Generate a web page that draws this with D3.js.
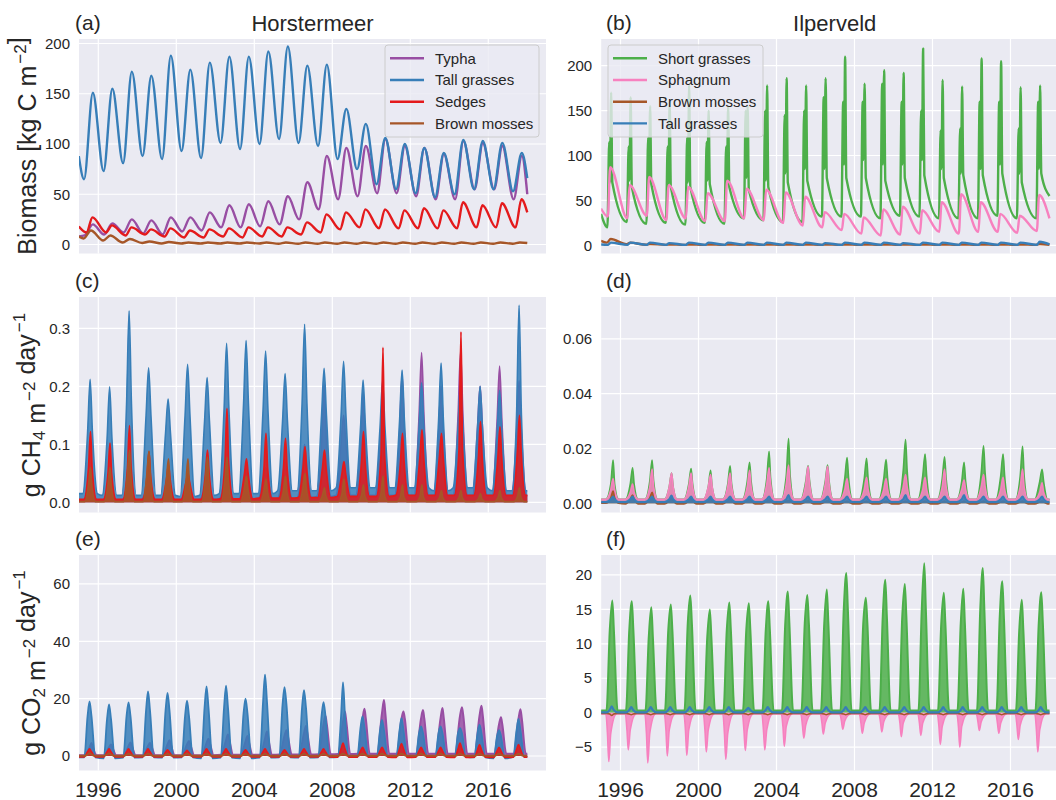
<!DOCTYPE html>
<html>
<head>
<meta charset="utf-8">
<script src="https://cdn.jsdelivr.net/npm/d3@7"></script>
<style>
body { margin: 0; background: #fff; }
svg text { font-family: "Liberation Sans", Arial, sans-serif; fill: #262626; }
</style>
</head>
<body>
<svg id="chart" width="1056" height="800"></svg>
<script>
// one value per year, 1995 .. 2017
const years = [1995,1996,1997,1998,1999,2000,2001,2002,2003,2004,2005,2006,2007,2008,2009,2010,2011,2012,2013,2014,2015,2016,2017];
const yearTicks = [1996, 2000, 2004, 2008, 2012, 2016];

// (a) biomass Horstermeer: spring minimum / autumn maximum
const hTyphaLow  = [9,10,12,11,10,13,14,17,17,18,20,25,35,45,48,51,51,48,45,45,55,55,45];
const hTyphaHigh = [20,21,25,24,27,27,32,39,40,43,48,62,88,96,98,105,98,96,90,103,101,98,88];
const hTallLow   = [65,73,81,88,85,93,86,101,95,100,105,101,98,85,75,60,55,51,47,50,55,55,53];
const hTallHigh  = [151,155,172,168,188,174,181,187,187,192,197,178,179,135,120,106,100,96,91,104,103,101,91];
const hSedgeLow  = [12,12,9,10,8,7,7,8,7,8,8,10,12,15,17,16,16,16,16,16,17,17,17];
const hSedgeHigh = [27,19,17,15,16,14,15,16,17,17,17,22,30,32,35,35,34,36,34,42,39,41,45];
const hMossLow   = [6,4,2,1.5,1,1,1,1,1,1,0.8,0.8,0.8,0.8,0.8,0.8,0.8,0.8,0.8,0.8,0.8,0.8,0.8];
const hMossHigh  = [14,9,5.5,3,2.5,2,2,2,2,2,2,2,2,2,2,2,2,2,2,2,2,2,2];

// (b) biomass Ilperveld
const iShortLow   = [20,26,24,25,23,25,24,30,28,26,26,32,32,32,30,33,32,30,30,30,33,30,30];
const iShortSpike = [115,110,120,110,120,115,110,150,150,145,150,165,160,160,180,160,150,128,130,160,160,130,160];
const iShortDip   = [70,72,70,68,70,72,68,75,72,80,85,85,90,95,90,90,95,85,80,85,90,80,85];
const iShortHigh  = [170,165,155,160,178,150,155,155,178,186,178,186,210,180,195,192,219,184,177,208,205,176,178];
const iShortAfter = [70,65,68,65,65,68,65,62,65,70,72,75,75,75,72,75,78,75,78,78,80,70,80];
const iSphagLow   = [32,30,33,28,30,27,27,30,28,25,22,20,17,13,11,12,13,15,13,15,15,14,16];
const iSphagHigh  = [87,67,76,67,65,58,72,63,62,59,54,37,35,31,40,43,39,48,57,48,35,33,56];
const iMossLow    = [3,1.2,0.6,0.5,0.5,0.5,0.5,0.5,0.5,0.5,0.5,0.5,0.5,0.5,0.5,0.5,0.5,0.5,0.5,0.5,0.5,0.5,0.5];
const iMossHigh   = [7,3,1.5,1,1,1,1,1,1,1,1,1,1,1,1,1,1,1,1,1,1,1,1.5];
const iTallLow    = [0.5,0.5,0.5,0.5,0.5,0.5,0.5,0.5,0.5,0.5,0.5,0.5,0.5,0.5,0.5,0.5,0.5,0.5,0.5,0.5,0.5,0.5,0.5];
const iTallHigh   = [3,3,3,2.5,3,3,3,3,3,3,3,2.5,3,3,3,2.5,3,3,3,3,3,3,4];

// (c) CH4 Horstermeer: winter level / summer band / annual spike
const hTyphaCH4Lo  = [0.003,0.003,0.003,0.004,0.004,0.004,0.005,0.006,0.006,0.006,0.007,0.008,0.01,0.012,0.012,0.012,0.012,0.012,0.012,0.012,0.012,0.012,0.012];
const hTyphaCH4Mid = [0.01,0.01,0.015,0.02,0.02,0.02,0.025,0.035,0.035,0.04,0.045,0.06,0.1,0.1,0.1,0.1,0.12,0.15,0.12,0.15,0.13,0.14,0.12];
const hTyphaCH4Hi  = [0.02,0.02,0.025,0.03,0.03,0.035,0.04,0.06,0.06,0.06,0.07,0.1,0.204,0.15,0.19,0.17,0.22,0.258,0.2,0.26,0.2,0.235,0.21];
const hTallCH4Lo   = [0.015,0.012,0.012,0.012,0.012,0.01,0.012,0.015,0.015,0.015,0.02,0.02,0.02,0.025,0.025,0.025,0.025,0.025,0.02,0.025,0.025,0.02,0.02];
const hTallCH4Mid  = [0.12,0.11,0.17,0.15,0.12,0.15,0.14,0.16,0.17,0.16,0.14,0.17,0.15,0.15,0.13,0.13,0.14,0.13,0.14,0.13,0.13,0.12,0.15];
const hTallCH4Hi   = [0.212,0.199,0.33,0.232,0.178,0.238,0.215,0.274,0.279,0.261,0.222,0.307,0.231,0.243,0.211,0.21,0.228,0.206,0.24,0.208,0.2,0.193,0.34];
const hSedgeCH4Lo  = [0.005,0.005,0.005,0.005,0.005,0.005,0.005,0.006,0.006,0.007,0.007,0.008,0.008,0.01,0.01,0.01,0.012,0.012,0.012,0.012,0.012,0.012,0.012];
const hSedgeCH4Mid = [0.06,0.05,0.06,0.045,0.04,0.035,0.05,0.07,0.05,0.06,0.06,0.06,0.06,0.05,0.07,0.08,0.07,0.08,0.08,0.09,0.08,0.08,0.09];
const hSedgeCH4Hi  = [0.122,0.102,0.132,0.087,0.064,0.05,0.09,0.162,0.075,0.119,0.11,0.096,0.09,0.07,0.122,0.267,0.119,0.125,0.119,0.294,0.139,0.13,0.15];
const hMossCH4Lo   = [0.001,0.001,0.001,0.001,0.001,0.001,0.001,0.001,0.001,0.001,0.001,0.001,0.001,0.001,0.001,0.001,0.001,0.001,0.001,0.001,0.001,0.001,0.001];
const hMossCH4Mid  = [0.03,0.03,0.05,0.05,0.04,0.035,0.04,0.04,0.025,0.02,0.02,0.025,0.012,0.015,0.012,0.015,0.01,0.01,0.008,0.008,0.006,0.008,0.01];
const hMossCH4Hi   = [0.06,0.06,0.09,0.088,0.075,0.075,0.078,0.078,0.045,0.04,0.045,0.05,0.025,0.04,0.03,0.045,0.03,0.03,0.02,0.02,0.015,0.02,0.025];

// (d) CH4 Ilperveld
const iShortCH4Lo  = [0.0015,0.0015,0.0015,0.0015,0.0015,0.0015,0.0015,0.0015,0.0015,0.0015,0.0015,0.0015,0.0015,0.0015,0.0015,0.0015,0.0015,0.0015,0.0015,0.0015,0.0015,0.0015,0.0015];
const iShortCH4Mid = [0.007,0.007,0.008,0.006,0.007,0.006,0.007,0.008,0.009,0.01,0.008,0.008,0.009,0.009,0.009,0.012,0.01,0.009,0.008,0.011,0.01,0.01,0.008];
const iShortCH4Hi  = [0.0158,0.013,0.0158,0.011,0.0127,0.012,0.0137,0.015,0.019,0.0236,0.0137,0.014,0.0167,0.0164,0.016,0.0233,0.018,0.017,0.015,0.021,0.018,0.0208,0.0124];
const iSphagCH4Lo  = [0.0015,0.0015,0.0015,0.0015,0.0015,0.0015,0.0015,0.0015,0.0015,0.0015,0.0015,0.0015,0.0015,0.0015,0.0015,0.0015,0.0015,0.0015,0.0015,0.0015,0.0015,0.0015,0.0015];
const iSphagCH4Mid = [0.005,0.004,0.006,0.006,0.006,0.006,0.006,0.006,0.007,0.007,0.007,0.007,0.005,0.005,0.005,0.006,0.005,0.006,0.005,0.006,0.005,0.006,0.004];
const iSphagCH4Hi  = [0.009,0.007,0.0125,0.011,0.011,0.0105,0.011,0.012,0.013,0.014,0.0135,0.0135,0.009,0.0095,0.009,0.0105,0.0095,0.0125,0.0085,0.0105,0.0095,0.0125,0.0075];
const iMossCH4Lo   = [0,-0.0002,-0.0002,-0.0002,-0.0002,-0.0002,-0.0002,-0.0002,-0.0002,-0.0002,-0.0002,-0.0002,-0.0002,-0.0002,-0.0002,-0.0002,-0.0002,-0.0002,-0.0002,-0.0002,-0.0002,-0.0002,-0.0002];
const iMossCH4Mid  = [0.002,0.0015,0.002,0.001,0.001,0.001,0.001,0.001,0.0008,0.0008,0.0006,0.0006,0.0005,0.0005,0.0005,0.0005,0.0005,0.0005,0.0005,0.0005,0.0005,0.0005,0.0005];
const iMossCH4Hi   = [0.0045,0.003,0.004,0.002,0.002,0.0018,0.0018,0.0015,0.0012,0.001,0.001,0.001,0.0008,0.0008,0.0008,0.0008,0.0008,0.0008,0.0008,0.0008,0.0008,0.0008,0.0008];
const iTallCH4Lo   = [0.0005,0.0005,0.0005,0.0005,0.0005,0.0005,0.0005,0.0005,0.0005,0.0005,0.0005,0.0005,0.0005,0.0005,0.0005,0.0005,0.0005,0.0005,0.0005,0.0005,0.0005,0.0005,0.0005];
const iTallCH4Mid  = [0.0015,0.0015,0.0015,0.0015,0.0015,0.0015,0.0015,0.0015,0.0015,0.0015,0.0015,0.0015,0.0015,0.0015,0.0015,0.0015,0.0015,0.0015,0.0015,0.0015,0.0015,0.0015,0.0015];
const iTallCH4Hi   = [0.0025,0.0025,0.0025,0.0028,0.0025,0.0025,0.0025,0.0025,0.0025,0.003,0.0025,0.0025,0.0025,0.0025,0.0025,0.003,0.0025,0.0025,0.003,0.0025,0.0025,0.0025,0.0025];

// (e) CO2 Horstermeer
const hTyphaCO2Lo  = [0.3,0.3,0.3,0.3,0.3,0.3,0.3,0.4,0.4,0.4,0.5,0.5,0.6,0.7,0.8,0.8,0.8,0.8,0.8,0.8,0.8,0.8,0.8];
const hTyphaCO2Mid = [3,3,3.5,3.5,4,4,4.5,5.5,5,6,7,8,11,12,13,15,13,13,13,14,14,11,13];
const hTyphaCO2Hi  = [4.5,4,4.7,4.5,5.5,5.2,6,7.5,7,8.5,9,10.5,14,15.5,16.5,19.5,15.5,16,16.7,17,17.5,13.5,16.3];
const hTallCO2Lo   = [-0.5,-0.8,-0.6,-0.5,-0.6,-0.5,-0.8,-0.6,-0.8,-0.6,-0.5,-0.6,-0.5,-0.4,-0.3,-0.3,-0.3,-0.3,-0.3,-0.3,-0.5,-0.8,-0.3];
const hTallCO2Mid  = [14,13,14,16,16,14,17,17,15,19,18,17,14,14,10,9,9,8,8,8,8,7,9];
const hTallCO2Hi   = [19,18,18.7,22.5,22,19.3,24.3,24.5,20,28.4,24,23,18.8,25.7,13.8,12.6,13.2,10.3,10.3,9.7,10.9,9,12.9];
const hSedgeCO2Lo  = [-0.3,-0.3,-0.3,-0.3,-0.3,-0.3,-0.3,-0.3,-0.3,-0.3,-0.3,-0.3,-0.3,-0.4,-0.4,-0.4,-0.5,-0.4,-0.4,-0.5,-0.4,-0.5,-0.4];
const hSedgeCO2Mid = [1.5,1.5,1.5,1.5,1.3,1.2,1.5,1.5,1.3,1.5,1.3,1.5,1.5,2.5,1.8,1.8,2.5,1.8,1.8,2.5,2.2,1.8,2.3];
const hSedgeCO2Hi  = [2.5,2.5,2.5,2.5,2.2,2,2.5,2.5,2.2,2.5,2.2,2.5,2.5,4.5,3,3,4.3,3,3,4.5,4,3,4];
const hMossCO2Lo   = [0.1,0.1,0.1,0.1,0.1,0.1,0.1,0.1,0.1,0.1,0.1,0.1,0.1,0.1,0.1,0.1,0.1,0.1,0.1,0.1,0.1,0.1,0.1];
const hMossCO2Mid  = [0.5,0.5,0.4,0.4,0.4,0.4,0.4,0.4,0.4,0.4,0.4,0.4,0.4,0.4,0.4,0.4,0.4,0.4,0.4,0.4,0.4,0.4,0.4];
const hMossCO2Hi   = [1,0.9,0.8,0.8,0.8,0.8,0.8,0.8,0.8,0.8,0.8,0.8,0.8,0.8,0.8,0.8,0.8,0.8,0.8,0.8,0.8,0.8,0.8];

// (f) CO2 Ilperveld
const iShortCO2Lo  = [0.3,0.3,0.3,0.3,0.3,0.3,0.3,0.3,0.3,0.3,0.3,0.3,0.3,0.3,0.3,0.3,0.3,0.3,0.3,0.3,0.3,0.3,0.3];
const iShortCO2Mid = [12,12,11,12,13,11,12,12,12,13,13,13,15,13,14,14,15,13,13,15,14,12,13];
const iShortCO2Hi  = [16.3,16.2,15.3,15.7,17,15,16,15.9,16.2,17.6,17.1,17.9,20.3,16.7,19.3,18.7,21.7,17.4,18,21,19.1,16.4,17.5];
const iSphagCO2Lo  = [-0.2,-0.2,-0.2,-0.2,-0.2,-0.2,-0.2,-0.2,-0.2,-0.2,-0.2,-0.2,-0.2,-0.2,-0.2,-0.2,-0.2,-0.2,-0.2,-0.2,-0.2,-0.2,-0.2];
const iSphagCO2Mid = [-3,-2.5,-3,-2.5,-2.5,-2.5,-3,-2.5,-2.5,-2,-1.8,-1.5,-1.2,-1.5,-1.3,-1.5,-1.5,-2,-2,-1.3,-1.5,-1.8,-2.5];
const iSphagCO2Hi  = [-7.1,-5.4,-7.3,-6.3,-6.2,-5.7,-6.8,-5.5,-5.4,-4.9,-3.7,-3.1,-2.4,-3,-2.8,-3.5,-3.3,-4.6,-5,-2.6,-3,-3.9,-5.7];
const iMossCO2Lo   = [-0.1,-0.1,-0.1,-0.1,-0.1,-0.1,-0.1,-0.1,-0.1,-0.1,-0.1,-0.1,-0.1,-0.1,-0.1,-0.1,-0.1,-0.1,-0.1,-0.1,-0.1,-0.1,-0.1];
const iMossCO2Mid  = [-0.2,-0.2,-0.2,-0.2,-0.2,-0.2,-0.2,-0.2,-0.2,-0.2,-0.2,-0.2,-0.2,-0.2,-0.2,-0.2,-0.2,-0.2,-0.2,-0.2,-0.2,-0.2,-0.2];
const iMossCO2Hi   = [-0.4,-0.3,-0.3,-0.3,-0.3,-0.3,-0.3,-0.3,-0.3,-0.3,-0.3,-0.3,-0.3,-0.3,-0.3,-0.3,-0.3,-0.3,-0.3,-0.3,-0.3,-0.3,-0.3];
const iTallCO2Lo   = [0.05,0.05,0.05,0.05,0.05,0.05,0.05,0.05,0.05,0.05,0.05,0.05,0.05,0.05,0.05,0.05,0.05,0.05,0.05,0.05,0.05,0.05,0.05];
const iTallCO2Mid  = [0.4,0.4,0.4,0.4,0.4,0.4,0.4,0.4,0.4,0.4,0.4,0.4,0.4,0.4,0.4,0.4,0.4,0.4,0.4,0.4,0.4,0.4,0.4];
const iTallCO2Hi   = [0.9,0.8,0.8,0.8,0.8,0.8,0.8,0.7,0.8,0.8,0.8,0.8,0.8,0.8,0.8,0.8,0.8,0.8,0.8,0.8,0.8,0.8,0.8];

const colors = {
  typha: '#984ea3', tall: '#377eb8', sedge: '#e41a1c',
  moss: '#a65628', short: '#4daf4a', sphag: '#f781bf'
};

// ---- helpers to turn the yearly readings into dated points ----
function seasonal(lows, highs, tLow, tHigh, start, end) {
  const pts = [{ t: 1995.0, v: start }];
  years.forEach((yr, i) => {
    pts.push({ t: yr + tLow, v: lows[i] });
    pts.push({ t: yr + tHigh, v: highs[i] });
  });
  pts.push({ t: 2018.0, v: end });
  return pts;
}

function pulses(lo, mid, hi, times) {
  const pts = [{ t: 1995.0, v: lo[0] }];
  years.forEach((yr, i) => {
    const vals = [lo[i], mid[i], hi[i], mid[i], lo[i]];
    times.forEach((f, k) => pts.push({ t: yr + f, v: vals[k] }));
  });
  pts.push({ t: 2018.0, v: lo[lo.length - 1] });
  return pts;
}

function shortGrassBiomass() {
  const pts = [{ t: 1995.0, v: 35 }];
  years.forEach((yr, i) => {
    pts.push({ t: yr + 0.33, v: iShortLow[i] });
    pts.push({ t: yr + 0.42, v: iShortSpike[i] });
    pts.push({ t: yr + 0.46, v: iShortDip[i] });
    pts.push({ t: yr + 0.52, v: iShortHigh[i] });
    pts.push({ t: yr + 0.58, v: iShortAfter[i] });
  });
  pts.push({ t: 2018.0, v: 55 });
  return pts;
}

// ---- layout ----
const svg = d3.select('#chart');
const pw = 467;
const xDom = [1995.01, 2018.96];
const rows = [[39, 253.5], [297, 512.5], [555, 770.5]];
const cols = [79, 601.2];

function panel(cfg) {
  const x0 = cols[cfg.col], [y0, y1] = rows[cfg.row];
  const x = d3.scaleLinear().domain(xDom).range([x0, x0 + pw]);
  const y = d3.scaleLinear().domain(cfg.yDom).range([y1, y0]);
  const g = svg.append('g');

  g.append('rect').attr('x', x0).attr('y', y0).attr('width', pw).attr('height', y1 - y0)
    .attr('fill', '#eaeaf2');

  // gridlines
  g.append('g').selectAll('line').data(yearTicks).join('line')
    .attr('x1', d => x(d)).attr('x2', d => x(d)).attr('y1', y0).attr('y2', y1)
    .attr('stroke', '#fff').attr('stroke-width', 1.2);
  g.append('g').selectAll('line').data(cfg.yTicks).join('line')
    .attr('x1', x0).attr('x2', x0 + pw).attr('y1', d => y(d)).attr('y2', d => y(d))
    .attr('stroke', '#fff').attr('stroke-width', 1.2);

  // y tick labels
  g.append('g').selectAll('text').data(cfg.yTicks).join('text')
    .attr('x', x0 - 9).attr('y', d => y(d)).attr('dy', '0.35em')
    .attr('text-anchor', 'end').attr('font-size', 15)
    .text(d => cfg.fmt(d).replace('-', '\u2212'));

  if (cfg.row === 2) {
    g.append('g').selectAll('text').data(yearTicks).join('text')
      .attr('x', d => x(d)).attr('y', 796.5)
      .attr('text-anchor', 'middle').attr('font-size', 21)
      .text(d => d);
  }

  const clipId = 'clip-' + cfg.id;
  svg.append('clipPath').attr('id', clipId).append('rect')
    .attr('x', x0).attr('y', y0).attr('width', pw).attr('height', y1 - y0);
  const plot = g.append('g').attr('clip-path', 'url(#' + clipId + ')');

  cfg.series.forEach(s => {
    if (s.fill) {
      const area = d3.area().x(d => x(d.t)).y0(y(0)).y1(d => y(d.v)).curve(d3.curveMonotoneX);
      plot.append('path').attr('d', area(s.pts)).attr('fill', s.color).attr('opacity', 0.85);
    }
    const line = d3.line().x(d => x(d.t)).y(d => y(d.v)).curve(d3.curveMonotoneX);
    plot.append('path').attr('d', line(s.pts)).attr('fill', 'none')
      .attr('stroke', s.color).attr('stroke-width', s.width || 2.4)
      .attr('stroke-linejoin', 'round');
  });

  g.append('text').attr('x', cfg.col === 0 ? 75 : 606).attr('y', y0 - 9.5)
    .attr('font-size', 21).text('(' + cfg.id + ')');
  return { g, x, y };
}

function legend(x0, y0, w, entries) {
  const g = svg.append('g');
  g.append('rect').attr('x', x0).attr('y', y0).attr('width', w).attr('height', 92)
    .attr('rx', 3).attr('fill', '#eaeaf2').attr('fill-opacity', 0.8)
    .attr('stroke', '#cccccc').attr('stroke-width', 1);
  entries.forEach((e, i) => {
    const cy = y0 + 13.3 + 21.7 * i;
    g.append('line').attr('x1', x0 + 5).attr('x2', x0 + 39).attr('y1', cy).attr('y2', cy)
      .attr('stroke', e.color).attr('stroke-width', 2.4);
    g.append('text').attr('x', x0 + 50).attr('y', cy).attr('dy', '0.35em')
      .attr('font-size', 15).text(e.name);
  });
}

function yLabel(x, yc, parts) {
  const t = svg.append('text').attr('transform', `translate(${x},${yc}) rotate(-90)`)
    .attr('text-anchor', 'middle').attr('font-size', 25);
  parts.forEach(p => {
    if (p.sup) {
      t.append('tspan').attr('font-size', 17).attr('dx', 2).attr('dy', -10).text(p.sup);
      t.append('tspan').attr('dy', 10).text('');
    } else if (p.sub) {
      t.append('tspan').attr('font-size', 17).attr('dy', 5).text(p.sub);
      t.append('tspan').attr('dy', -5).text('');
    } else {
      t.append('tspan').text(p.txt);
    }
  });
}

const f0 = d3.format('d'), f1 = d3.format('.1f'), f2 = d3.format('.2f');

// (a)
panel({ id: 'a', col: 0, row: 0, yDom: [-8.96, 204.5], yTicks: [0, 50, 100, 150, 200], fmt: f0,
  series: [
    { color: colors.typha, pts: seasonal(hTyphaLow, hTyphaHigh, 0.3, 0.72, 8, 50) },
    { color: colors.tall, pts: seasonal(hTallLow, hTallHigh, 0.27, 0.72, 88, 66) },
    { color: colors.sedge, pts: seasonal(hSedgeLow, hSedgeHigh, 0.4, 0.7, 18, 32) },
    { color: colors.moss, pts: seasonal(hMossLow, hMossHigh, 0.25, 0.62, 8, 1.5) }
  ] });

// (b)
panel({ id: 'b', col: 1, row: 0, yDom: [-9.1, 229.7], yTicks: [0, 50, 100, 150, 200], fmt: f0,
  series: [
    { color: colors.short, pts: shortGrassBiomass() },
    { color: colors.sphag, pts: seasonal(iSphagLow, iSphagHigh, 0.35, 0.47, 41, 30) },
    { color: colors.moss, pts: seasonal(iMossLow, iMossHigh, 0.3, 0.5, 5, 0.5) },
    { color: colors.tall, pts: seasonal(iTallLow, iTallHigh, 0.35, 0.5, 1, 1) }
  ] });

// (c)
const tCH4 = [0.2, 0.45, 0.58, 0.7, 0.95];
panel({ id: 'c', col: 0, row: 1, yDom: [-0.0176, 0.354], yTicks: [0, 0.1, 0.2, 0.3], fmt: f1,
  series: [
    { color: colors.typha, fill: true, width: 1.6, pts: pulses(hTyphaCH4Lo, hTyphaCH4Mid, hTyphaCH4Hi, tCH4) },
    { color: colors.tall, fill: true, width: 1.6, pts: pulses(hTallCH4Lo, hTallCH4Mid, hTallCH4Hi, tCH4) },
    { color: colors.sedge, fill: true, width: 1.8, pts: pulses(hSedgeCH4Lo, hSedgeCH4Mid, hSedgeCH4Hi, [0.25, 0.5, 0.6, 0.68, 0.92]) },
    { color: colors.moss, fill: true, width: 1.8, pts: pulses(hMossCH4Lo, hMossCH4Mid, hMossCH4Hi, [0.3, 0.5, 0.6, 0.66, 0.85]) }
  ] });

// (d)
const tCH4i = [0.25, 0.5, 0.62, 0.7, 0.9];
panel({ id: 'd', col: 1, row: 1, yDom: [-0.00336, 0.0753], yTicks: [0, 0.02, 0.04, 0.06], fmt: f2,
  series: [
    { color: colors.short, fill: true, width: 1.6, pts: pulses(iShortCH4Lo, iShortCH4Mid, iShortCH4Hi, tCH4i) },
    { color: colors.sphag, fill: true, width: 1.6, pts: pulses(iSphagCH4Lo, iSphagCH4Mid, iSphagCH4Hi, tCH4i) },
    { color: colors.moss, fill: true, width: 1.6, pts: pulses(iMossCH4Lo, iMossCH4Mid, iMossCH4Hi, tCH4i) },
    { color: colors.tall, fill: true, width: 2, pts: pulses(iTallCH4Lo, iTallCH4Mid, iTallCH4Hi, tCH4i) }
  ] });

// (e)
const tCO2 = [0.28, 0.45, 0.55, 0.65, 0.85];
panel({ id: 'e', col: 0, row: 2, yDom: [-5.06, 70.1], yTicks: [0, 20, 40, 60], fmt: f0,
  series: [
    { color: colors.typha, fill: true, width: 2, pts: pulses(hTyphaCO2Lo, hTyphaCO2Mid, hTyphaCO2Hi, [0.3, 0.55, 0.65, 0.72, 0.92]) },
    { color: colors.tall, fill: true, width: 1.8, pts: pulses(hTallCO2Lo, hTallCO2Mid, hTallCO2Hi, tCO2) },
    { color: colors.sedge, fill: true, width: 1.6, pts: pulses(hSedgeCO2Lo, hSedgeCO2Mid, hSedgeCO2Hi, tCO2) },
    { color: colors.moss, fill: false, width: 2, pts: pulses(hMossCO2Lo, hMossCO2Mid, hMossCO2Hi, tCO2) }
  ] });

// (f)
panel({ id: 'f', col: 1, row: 2, yDom: [-8.4, 22.9], yTicks: [-5, 0, 5, 10, 15, 20], fmt: f0,
  series: [
    { color: colors.short, fill: true, width: 2, pts: pulses(iShortCO2Lo, iShortCO2Mid, iShortCO2Hi, [0.28, 0.45, 0.58, 0.66, 0.85]) },
    { color: colors.sphag, fill: true, width: 1.6, pts: pulses(iSphagCO2Lo, iSphagCO2Mid, iSphagCO2Hi, [0.25, 0.33, 0.4, 0.5, 0.8]) },
    { color: colors.moss, fill: false, width: 1.6, pts: pulses(iMossCO2Lo, iMossCO2Mid, iMossCO2Hi, tCO2) },
    { color: colors.tall, fill: false, width: 2.2, pts: pulses(iTallCO2Lo, iTallCO2Mid, iTallCO2Hi, tCO2) }
  ] });

legend(385, 45, 154, [
  { name: 'Typha', color: colors.typha },
  { name: 'Tall grasses', color: colors.tall },
  { name: 'Sedges', color: colors.sedge },
  { name: 'Brown mosses', color: colors.moss }
]);
legend(608, 45, 155, [
  { name: 'Short grasses', color: colors.short },
  { name: 'Sphagnum', color: colors.sphag },
  { name: 'Brown mosses', color: colors.moss },
  { name: 'Tall grasses', color: colors.tall }
]);

// titles
svg.append('text').attr('x', 312.5).attr('y', 31).attr('text-anchor', 'middle')
  .attr('font-size', 22).text('Horstermeer');
svg.append('text').attr('x', 834.7).attr('y', 31).attr('text-anchor', 'middle')
  .attr('font-size', 22).text('Ilperveld');

// axis labels
yLabel(36, 146, [{ txt: 'Biomass [kg C m' }, { sup: '\u22122' }, { txt: ']' }]);
yLabel(40, 405, [{ txt: 'g CH' }, { sub: '4' }, { txt: ' m' }, { sup: '\u22122' }, { txt: ' day' }, { sup: '\u22121' }]);
yLabel(40, 663, [{ txt: 'g CO' }, { sub: '2' }, { txt: ' m' }, { sup: '\u22122' }, { txt: ' day' }, { sup: '\u22121' }]);
</script>
</body>
</html>
